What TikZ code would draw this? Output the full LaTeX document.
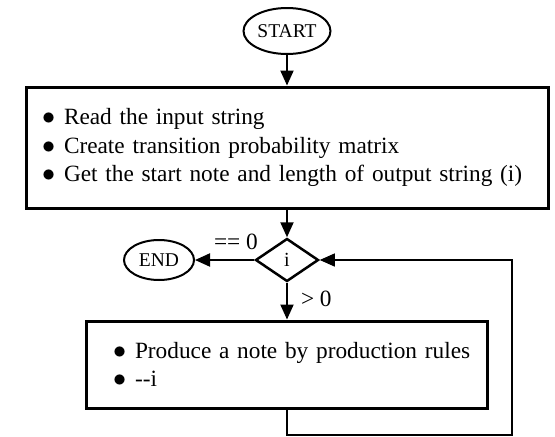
\documentclass[tikz,border=0pt]{standalone}
\usepackage{fontspec}
\setmainfont{Liberation Serif}
\usetikzlibrary{arrows.meta, shapes.geometric}

\newcommand{\point}[1]{\mbox{\makebox[22pt][l]{\scalebox{1.05}{$\bullet$}}#1}}

\begin{document}
\begin{tikzpicture}[x = 1pt, y = -1pt, > = {Triangle[length = 15pt, width = 13pt]},
	terminal/.style = {ellipse, draw, line width = 2pt, inner sep = 0pt, font = \fontsize{19.5}{21}\selectfont},
	process/.style = {rectangle, draw, line width = 3pt, inner sep = 0pt, align = left, font = \fontsize{23.3}{28.5}\selectfont},
	decision/.style = {diamond, draw, line width = 2.5pt, inner sep = 0pt, font = \fontsize{20}{22}\selectfont},
	tag/.style = {inner sep = 0pt, font = \fontsize{23.3}{26}\selectfont},
	flow/.style = {->, line width = 2pt},
	feedback/.style = {->, line width = 1.3pt}]

	% Bounding box
	
	\useasboundingbox (0, 0) rectangle (555, 437);

	% Draw terminals and decision
	
	\node [terminal, minimum width = 87pt, minimum height = 46pt] (start) at (287, 31) {START};
	\node [terminal, minimum width = 70pt, minimum height = 40pt] (stop) at (159, 260) {END};
	\node [decision, minimum width = 63pt, minimum height = 43pt] (decide) at (287, 260) {i};

	% Draw process boxes
	
	\node [process, minimum width = 522pt, minimum height = 121pt, text width = 490pt] (input) at (287, 147.5)
		{\point{Read the input string}\\
		 \point{Create transition probability matrix}\\
		 \point{Get the start note and length of output string (i)}};
	\node [process, minimum width = 401pt, minimum height = 87pt, text width = 348pt] (produce) at (287, 364.5)
		{\point{Produce a note by production rules}\\
		 \point{-{}-i}};

	% Draw connectors
	
	\coordinate (back) at (512, 435);
	
	\draw [flow] (start) -- (input);
	\draw [flow] (input) -- (decide);
	\draw [flow] (decide) -- (stop) node [tag, pos = 0.31, above = 9pt] {== 0};
	\draw [flow] (decide) -- (produce) node [tag, pos = 0.44, right = 13pt] {> 0};
	\draw [feedback] (produce.south) |- (back) |- (decide.east);

\end{tikzpicture}
\end{document}
